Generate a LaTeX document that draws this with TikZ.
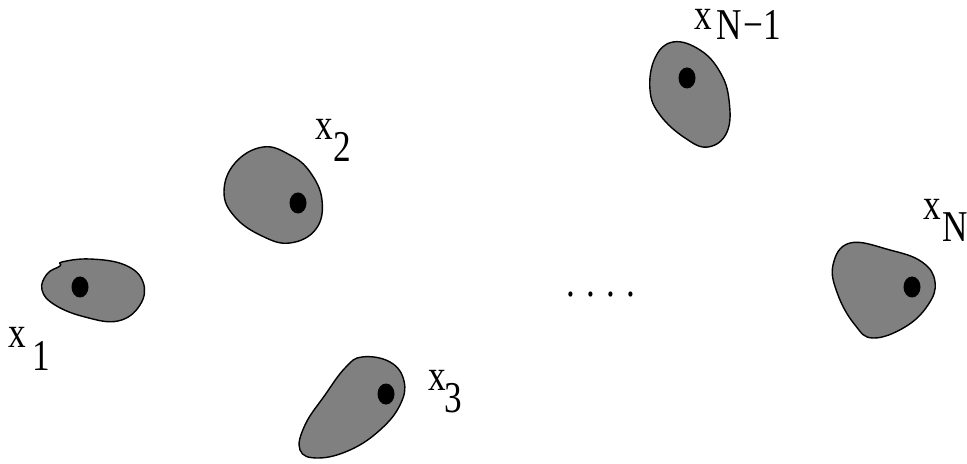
\documentclass[tikz,border=0pt]{standalone}
\usepackage{fontspec}
\setmainfont{Liberation Serif}
\definecolor{blobcolor}{HTML}{808080}
% x with a lowered subscript: drop, gap, text
\newcommand{\xsub}[3]{\scalebox{0.8}[1]{x\kern#2\raisebox{-#1}{#3}}}
\tikzset{
  blob/.style={fill=blobcolor,draw=black,line width=0.7pt},
  lbl/.style={anchor=base west,inner sep=0pt,font=\fontsize{22}{26}\selectfont}
}

\begin{document}
\begin{tikzpicture}[x=0.5pt,y=-0.5pt,line cap=round,line join=round]
  \useasboundingbox (0,0) rectangle (967,464);
  % blobs
  \draw[blob] plot[smooth cycle,tension=0.7] coordinates {(62,262) (90,259) (125,265) (143,282) (140,305) (118,321) (85,317) (55,305) (42,290) (47,274) (60,266)};
  \draw[blob] plot[smooth cycle,tension=0.7] coordinates {(263,147) (290,155) (310,172) (322,200) (316,229) (290,243) (262,236) (235,217) (224,192) (235,163)};
  \draw[blob] plot[smooth cycle,tension=0.7] coordinates {(362,357) (390,362) (404,381) (400,405) (380,430) (350,450) (318,458) (300,450) (305,425) (325,395) (345,368)};
  \draw[blob] plot[smooth cycle,tension=0.7] coordinates {(673,42) (700,50) (720,72) (729,100) (727,132) (708,147) (685,138) (660,115) (650,90) (655,58)};
  \draw[blob] plot[smooth cycle,tension=0.7] coordinates {(850,243) (890,250) (922,262) (935,282) (928,305) (905,327) (873,338) (855,325) (838,295) (833,265)};
  % points
  \foreach \x/\y in {80/287,298/203,386/394,687/78,912/287}{
    \fill (\x,\y) ellipse[x radius=8.5,y radius=10.5];
  }
  % labels
  \node[lbl] (x1) at (8,347) {\xsub{11.5pt}{4pt}{1}};
  \node[lbl] (x2) at (315,140) {\xsub{11pt}{0pt}{2}};
  \node[lbl] (x3) at (428,390) {\xsub{11pt}{-1pt}{3}};
  \node[lbl] (xn1) at (694,30) {\xsub{5pt}{3pt}{N\kern1pt−1}};
  \node[lbl] (xn) at (923,220) {\xsub{11pt}{1pt}{N}};
  \node[lbl] (dots) at (566,297) {\scalebox{0.8}[1]{.\kern7pt.\kern7pt.\kern7pt.}};
\end{tikzpicture}
\end{document}
